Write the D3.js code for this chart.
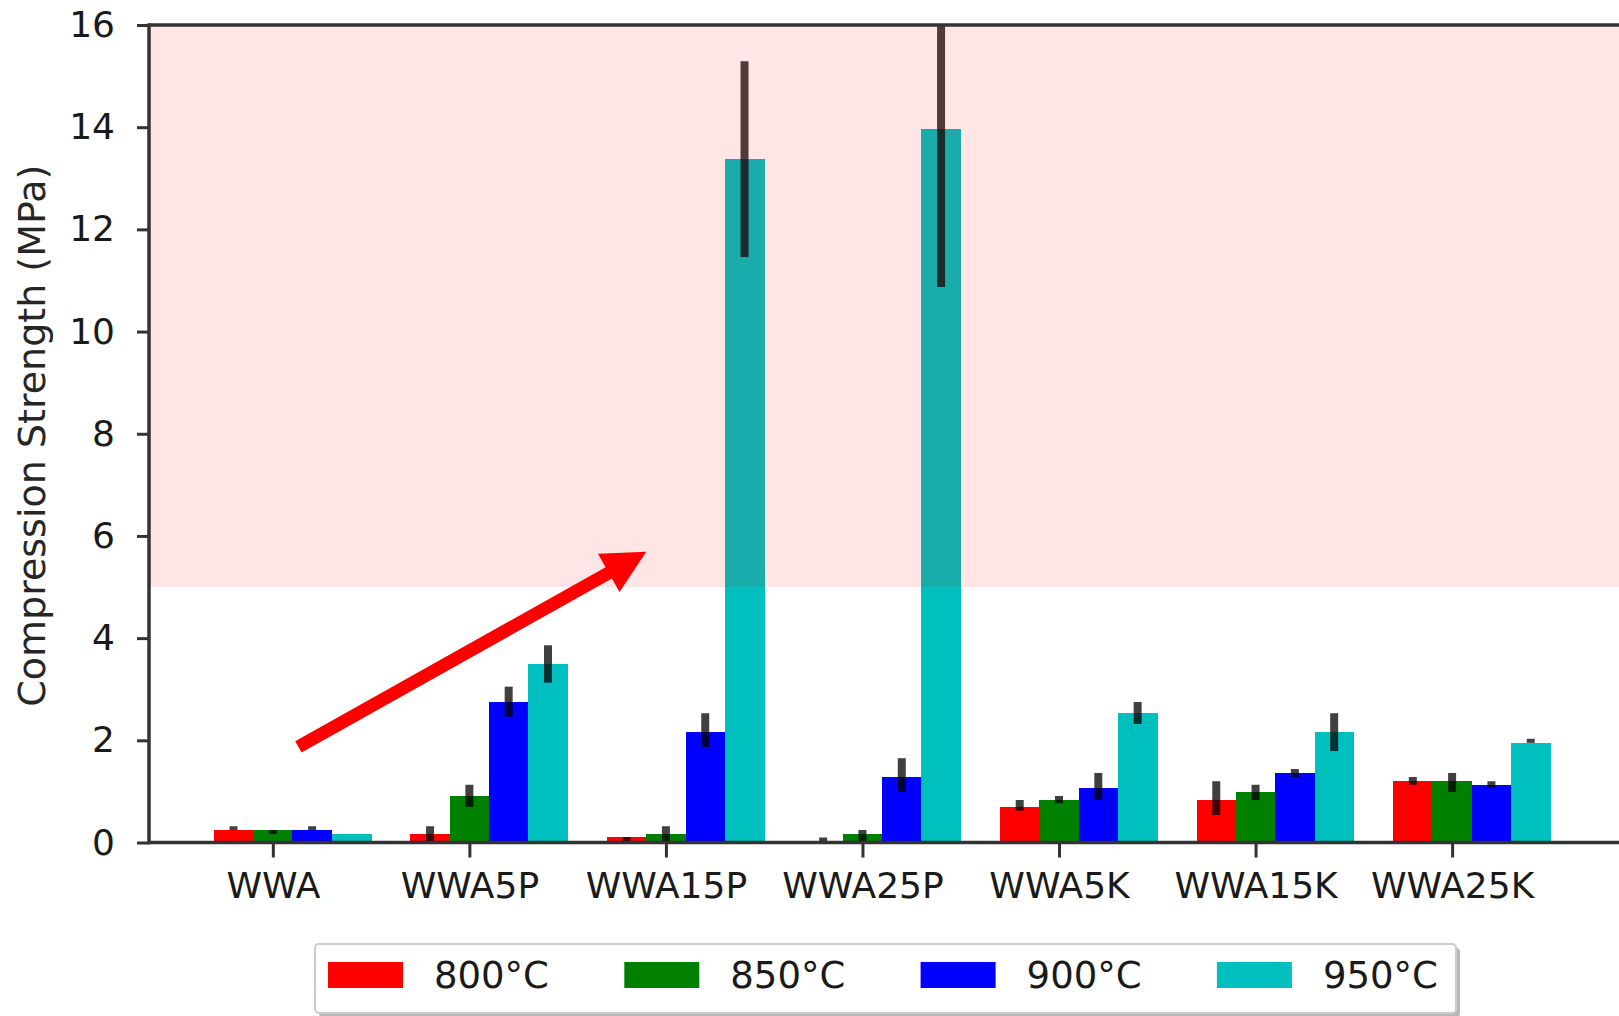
<!DOCTYPE html>
<html>
<head>
<meta charset="utf-8">
<script src="https://cdn.jsdelivr.net/npm/d3@7"></script>
<style>
  body { margin: 0; background: #fff; }
  text { font-family: "DejaVu Sans", sans-serif; }
</style>
</head>
<body>
<div id="chart"></div>
<script>
// categories and series
var categories = ["WWA", "WWA5P", "WWA15P", "WWA25P", "WWA5K", "WWA15K", "WWA25K"];
var temps = ["800°C", "850°C", "900°C", "950°C"];
var colors = ["#ff0000", "#008000", "#0000ff", "#00bfbf"];

var s800   = [0.245, 0.166, 0.108, 0.02, 0.695, 0.83, 1.20];
var s800Lo = [0.245, 0.03, 0.03, 0.0, 0.62, 0.54, 1.13];
var s800Hi = [0.32, 0.32, 0.108, 0.10, 0.83, 1.20, 1.28];

var s850   = [0.245, 0.91, 0.166, 0.166, 0.83, 0.99, 1.20];
var s850Lo = [0.166, 0.695, 0.03, 0.03, 0.77, 0.83, 0.99];
var s850Hi = [0.245, 1.13, 0.32, 0.245, 0.91, 1.13, 1.36];

var s900   = [0.245, 2.75, 2.16, 1.28, 1.07, 1.36, 1.13];
var s900Lo = [0.245, 2.46, 1.87, 0.99, 0.83, 1.28, 1.07];
var s900Hi = [0.32, 3.05, 2.53, 1.65, 1.36, 1.44, 1.20];

var s950   = [0.166, 3.49, 13.38, 13.96, 2.53, 2.16, 1.95];
var s950Lo = [0.166, 3.13, 11.46, 10.87, 2.32, 1.79, 1.95];
var s950Hi = [0.166, 3.86, 15.29, 17.05, 2.75, 2.53, 2.03];

var yTicks = [0, 2, 4, 6, 8, 10, 12, 14, 16];
var spanRange = [5, 16];          // shaded band
var arrowFrom = [0.13, 1.87];     // annotation arrow, data units
var arrowTo = [1.9, 5.69];

function createBarChart(){

    var series = [
        {name: temps[0], color: colors[0], values: s800, lo: s800Lo, hi: s800Hi},
        {name: temps[1], color: colors[1], values: s850, lo: s850Lo, hi: s850Hi},
        {name: temps[2], color: colors[2], values: s900, lo: s900Lo, hi: s900Hi},
        {name: temps[3], color: colors[3], values: s950, lo: s950Lo, hi: s950Hi}
    ];

    var W = 1619, H = 1016;
    var pLeft = 149, pTop = 25, pBottom = 842.5, pRight = 1629;
    var barW = 0.2;

    var svg = d3.select("#chart").append("svg")
        .attr("width", W)
        .attr("height", H);

    var xScale = d3.scaleLinear().domain([-0.63, 6.9]).range([pLeft, pRight]);
    var yScale = d3.scaleLinear().domain([0, 16]).range([pBottom, pTop]);

    svg.append("defs").append("clipPath").attr("id", "plotclip")
        .append("rect")
            .attr("x", pLeft).attr("y", pTop)
            .attr("width", pRight - pLeft).attr("height", pBottom - pTop);

    var plot = svg.append("g").attr("clip-path", "url(#plotclip)");

    // flatten bars
    var bars = [];
    series.forEach(function(s, si){
        categories.forEach(function(c, ci){
            bars.push({cat: ci, s: si, color: s.color, v: s.values[ci], lo: s.lo[ci], hi: s.hi[ci]});
        });
    });

    var pxW = xScale(barW) - xScale(0);

    plot.selectAll(".bar")
        .data(bars)
        .enter().append("rect")
            .attr("class", "bar")
            .attr("x", function(d){ return xScale(d.cat + (d.s - 1) * barW - barW / 2); })
            .attr("width", pxW + 0.5)
            .attr("y", function(d){ return yScale(d.v); })
            .attr("height", function(d){ return yScale(0) - yScale(d.v); })
            .attr("shape-rendering", "crispEdges")
            .style("fill", function(d){ return d.color; });

    plot.selectAll(".err")
        .data(bars.filter(function(d){ return d.hi > d.lo; }))
        .enter().append("line")
            .attr("class", "err")
            .attr("x1", function(d){ return xScale(d.cat + (d.s - 1) * barW); })
            .attr("x2", function(d){ return xScale(d.cat + (d.s - 1) * barW); })
            .attr("y1", function(d){ return yScale(d.lo); })
            .attr("y2", function(d){ return yScale(d.hi); })
            .style("stroke", "#000")
            .style("stroke-opacity", 0.75)
            .style("stroke-width", 8);

    // red band on top of the bars
    plot.append("rect")
        .attr("x", pLeft)
        .attr("width", pRight - pLeft)
        .attr("y", yScale(spanRange[1]))
        .attr("height", yScale(spanRange[0]) - yScale(spanRange[1]))
        .style("fill", "#ff0000")
        .style("fill-opacity", 0.1);

    // arrow
    var p0 = [xScale(arrowFrom[0]), yScale(arrowFrom[1])];
    var p1 = [xScale(arrowTo[0]), yScale(arrowTo[1])];
    var dx = p1[0] - p0[0], dy = p1[1] - p0[1];
    var len = Math.sqrt(dx * dx + dy * dy);
    var ux = dx / len, uy = dy / len, nx = -uy, ny = ux;
    var hw = 6.5, HW = 22, HL = 43;
    var bx = p1[0] - ux * HL, by = p1[1] - uy * HL;
    var pts = [
        [p0[0] + nx * hw, p0[1] + ny * hw],
        [bx + nx * hw, by + ny * hw],
        [bx + nx * HW, by + ny * HW],
        p1,
        [bx - nx * HW, by - ny * HW],
        [bx - nx * hw, by - ny * hw],
        [p0[0] - nx * hw, p0[1] - ny * hw]
    ];
    svg.append("polygon")
        .attr("points", pts.map(function(p){ return p.join(","); }).join(" "))
        .style("fill", "#ff0000");

    // axes
    var yAxis = d3.axisLeft(yScale).tickValues(yTicks).tickSize(12).tickPadding(22);
    var xAxis = d3.axisBottom(xScale)
        .tickValues(d3.range(categories.length))
        .tickFormat(function(i){ return categories[i]; })
        .tickSize(15).tickPadding(15);

    var gy = svg.append("g")
        .attr("transform", "translate(" + pLeft + ",0)")
        .call(yAxis);
    var gx = svg.append("g")
        .attr("transform", "translate(0," + pBottom + ")")
        .call(xAxis);

    [gx, gy].forEach(function(g){
        g.select(".domain").remove();
        g.selectAll(".tick line").style("stroke", "#333").style("stroke-width", 3);
        g.selectAll(".tick text")
            .style("font-family", "'DejaVu Sans', sans-serif")
            .style("font-size", "36px")
            .style("fill", "#1a1a1a");
    });

    // spines
    svg.append("line").attr("x1", pLeft).attr("x2", pLeft).attr("y1", pTop - 1.75).attr("y2", pBottom + 1.75)
        .style("stroke", "#333").style("stroke-width", 3.5);
    svg.append("line").attr("x1", pLeft).attr("x2", pRight).attr("y1", pTop).attr("y2", pTop)
        .style("stroke", "#333").style("stroke-width", 3.5);
    svg.append("line").attr("x1", pLeft).attr("x2", pRight).attr("y1", pBottom).attr("y2", pBottom)
        .style("stroke", "#333").style("stroke-width", 3.5);

    // y label
    svg.append("text")
        .attr("transform", "translate(45," + ((pTop + pBottom) / 2 + 2) + ") rotate(-90)")
        .attr("text-anchor", "middle")
        .style("font-size", "38px")
        .style("fill", "#262626")
        .text("Compression Strength (MPa)");

    // legend
    var legX = 315, legY = 944, legW = 1141, legH = 69;
    var legend = svg.append("g");
    legend.append("rect")
        .attr("x", legX + 4).attr("y", legY + 4)
        .attr("width", legW).attr("height", legH)
        .attr("rx", 4)
        .style("fill", "#999")
        .style("fill-opacity", 0.7);
    legend.append("rect")
        .attr("x", legX).attr("y", legY)
        .attr("width", legW).attr("height", legH)
        .attr("rx", 4)
        .style("fill", "#fff")
        .style("stroke", "#cccccc")
        .style("stroke-width", 2);

    var items = legend.selectAll(".item")
        .data(series)
        .enter().append("g")
            .attr("class", "item")
            .attr("transform", function(d, i){ return "translate(" + (328 + i * 296.3) + "," + legY + ")"; });

    items.append("rect")
        .attr("x", 0).attr("y", 18)
        .attr("width", 75).attr("height", 26)
        .style("fill", function(d){ return d.color; });

    items.append("text")
        .attr("x", 106).attr("y", 44)
        .style("font-size", "37px")
        .style("fill", "#1a1a1a")
        .text(function(d){ return d.name; });
}

createBarChart();
</script>
</body>
</html>
